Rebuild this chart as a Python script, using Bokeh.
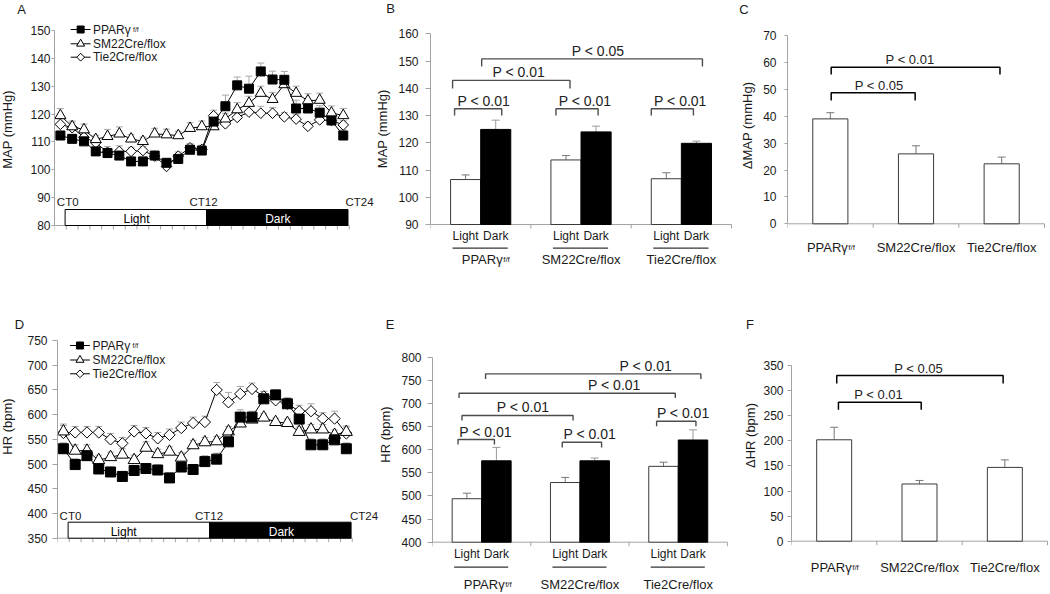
import math
from bokeh.plotting import figure
from bokeh.models import Range1d, FixedTicker, Whisker, TeeHead, ColumnDataSource
from bokeh.layouts import row, column
from bokeh.embed import file_html
from bokeh.resources import INLINE
from bokeh.core.properties import value

FONT = "Liberation Sans"
AXC = "#a3a3a3"
TXT = "#1a1a1a"
ERRC = "#a8a8a8"

# ---------------- data ----------------
ct_hours = list(range(25))
ct_labels = ["CT0", "CT12", "CT24"]
ct_label_hours = [0, 12, 24]
phase_names = ["Light", "Dark"]
phase_start = [0, 12]
phase_end = [12, 24]

series_names = ["PPARγ", "SM22Cre/flox", "Tie2Cre/flox"]
series_sup = ["f/f", "", ""]

# Panel A: MAP (mmHg) over circadian time
map_ppar = [112.3, 111.1, 110.2, 106.6, 106.0, 105.1, 103.0, 103.0, 105.1, 102.5, 103.9, 107.2, 106.9,
            117.3, 122.8, 130.3, 129.1, 135.3, 132.4, 132.3, 122.0, 122.0, 120.5, 117.7, 112.3]
map_ppar_err = [1.5, 1.5, 1.5, 1.5, 1.5, 1.5, 1.5, 1.5, 1.5, 1.5, 1.5, 1.5, 1.5,
                3.0, 4.0, 3.0, 4.5, 3.0, 3.0, 3.0, 3.0, 2.5, 2.5, 2.5, 2.0]
map_sm22 = [119.5, 115.5, 114.4, 110.9, 112.0, 112.9, 111.1, 110.2, 112.9, 112.6, 112.3, 114.9, 115.5,
            115.5, 118.3, 121.6, 123.9, 127.5, 125.3, 130.6, 127.5, 124.8, 125.0, 120.4, 119.5]
map_sm22_err = [2.5, 2.0, 2.0, 1.5, 2.5, 2.5, 1.5, 1.5, 2.0, 2.0, 1.5, 2.0, 2.0,
                2.5, 2.0, 2.5, 2.5, 2.5, 2.5, 2.5, 2.5, 2.5, 2.5, 2.5, 2.5]
map_tie2 = [116.3, 115.1, 111.7, 109.7, 106.3, 106.6, 106.6, 106.9, 104.9, 101.2, 104.9, 107.9, 107.3,
            119.4, 116.5, 118.8, 120.7, 120.3, 120.3, 119.0, 118.2, 115.6, 117.9, 117.7, 116.1]
map_tie2_err = [2.0, 2.0, 1.5, 1.5, 2.0, 2.0, 1.5, 1.5, 1.5, 1.5, 1.5, 1.5, 1.5,
                2.0, 1.5, 1.5, 2.5, 2.5, 2.0, 1.5, 1.5, 1.5, 1.5, 1.5, 1.5]

# Panel D: HR (bpm) over circadian time
hr_ppar = [531, 499, 517, 490, 484, 475, 487, 491, 488, 472, 494, 489, 505,
           510, 545, 595, 595, 632, 640, 622, 591, 539, 539, 549, 531]
hr_ppar_err = [12, 12, 12, 10, 10, 10, 10, 10, 10, 10, 10, 10, 12,
               12, 12, 15, 12, 15, 10, 12, 15, 12, 12, 12, 12]
hr_sm22 = [566, 527, 527, 508, 514, 519, 508, 533, 520, 525, 513, 538, 544,
           546, 566, 582, 590, 594, 585, 583, 565, 570, 570, 559, 565]
hr_sm22_err = [15, 12, 12, 10, 10, 12, 10, 12, 10, 10, 10, 10, 10,
               10, 10, 10, 8, 8, 8, 8, 10, 10, 10, 10, 10]
hr_tie2 = [563, 564, 564, 564, 550, 542, 566, 562, 552, 559, 573, 583, 585,
           650, 625, 642, 652, 637, 629, 622, 607, 607, 592, 592, 562]
hr_tie2_err = [15, 12, 12, 12, 12, 12, 12, 12, 12, 12, 12, 12, 12,
               15, 20, 15, 12, 10, 12, 12, 12, 15, 12, 15, 15]

# Bar panels
groups = ["PPARγ", "SM22Cre/flox", "Tie2Cre/flox"]
group_sup = ["f/f", "", ""]
map_light = [106.5, 113.7, 106.8]
map_light_err = [1.7, 1.6, 2.2]
map_dark = [124.9, 124.0, 119.8]
map_dark_err = [3.4, 2.1, 0.8]
dmap = [39.0, 26.0, 22.3]
dmap_err = [2.3, 3.0, 2.5]
hr_light = [494, 529, 564]
hr_light_err = [12, 11, 9]
hr_dark = [576, 576, 621]
hr_dark_err = [29, 6, 22]
dhr = [202, 114, 147]
dhr_err = [25, 7, 15]

# significance labels
map_sig_text = ["P < 0.01", "P < 0.01", "P < 0.01", "P < 0.01", "P < 0.05"]
dmap_sig_text = ["P < 0.05", "P < 0.01"]
hr_sig_text = ["P < 0.01"] * 6
dhr_sig_text = ["P < 0.01", "P < 0.05"]

# ---------------- layout (bracket geometry: x0, x1, y, drop, text x) ----------------
map_brackets = [(-0.26, 0.21, 132.5, 2.5, 0.03), (0.75, 1.17, 132.5, 2.5, 1.04),
                (1.70, 2.12, 132.5, 2.5, 1.99), (-0.28, 0.89, 142.9, 3.0, 0.38),
                (0.01, 2.21, 150.8, 2.8, 1.17)]
dmap_brackets = [(0.01, 0.99, 48.7, 2.9, 0.57), (0.01, 1.98, 58.2, 2.7, 0.93)]
hr_brackets = [(-0.24, 0.13, 622, 11, 0.04), (0.82, 1.22, 616, 11, 1.10),
               (1.78, 2.18, 661.6, 11, 2.05), (-0.20, 0.93, 674, 11, 0.42),
               (-0.23, 1.97, 722, 10, 1.35), (0.04, 2.23, 764, 11, 1.67)]
dhr_brackets = [(0.05, 1.02, 277, 15, 0.52), (0.03, 1.98, 330, 16, 0.99)]

ROW1_Y, ROW1_H = 0, 290
ROW2_Y, ROW2_H = 290, 302


def bare(W, H, xr, yr, bl=0, yaxis=False):
    p = figure(width=W, height=H, x_range=xr, y_range=yr,
               output_backend="svg", toolbar_location=None,
               x_axis_location=None, y_axis_location=("left" if yaxis else None),
               min_border_left=bl, min_border_right=0, min_border_top=0, min_border_bottom=0)
    p.outline_line_color = None
    p.xgrid.visible = False
    p.ygrid.visible = False
    p.background_fill_color = "white"
    p.border_fill_color = "white"
    return p


def make_panel(fx, fy, W, H, bl, sx, vref, yref, sy):
    fl = fx + bl
    fb = fy + H
    x0 = -0.5
    x1 = x0 + (W - bl) / sx
    ytop = vref + (yref - fy) / sy
    ybot = vref - (fb - yref) / sy
    p = bare(W, H, Range1d(x0, x1), Range1d(ybot, ytop), bl=bl, yaxis=True)
    X = lambda px: x0 + (px - fl) / sx
    Y = lambda py: vref - (py - yref) / sy
    return p, X, Y


def title_fig(fx, fy, W, H, title, title_xy, letter, letter_xy):
    p = bare(W, H, Range1d(0, W), Range1d(0, H))
    p.text(x=[title_xy[0] - fx], y=[H - (title_xy[1] - fy)], text=[title], angle=math.pi / 2,
           text_font=value(FONT), text_font_size="13px", text_align="center",
           text_baseline="middle", text_color=TXT)
    p.text(x=[letter_xy[0] - fx], y=[H - (letter_xy[1] - fy)], text=[letter],
           text_font=value(FONT), text_font_size="13px", text_align="center",
           text_baseline="middle", text_color=TXT)
    return p


def style_y(p, ticks, tick_out, standoff):
    ax = p.yaxis[0]
    ax.ticker = FixedTicker(ticks=ticks)
    ax.bounds = (ticks[0], ticks[-1])
    ax.axis_line_color = AXC
    ax.major_tick_line_color = AXC
    ax.major_tick_out = tick_out
    ax.major_tick_in = 0
    ax.minor_tick_line_color = None
    ax.minor_tick_out = 0
    ax.major_label_standoff = standoff
    ax.major_label_text_font = FONT
    ax.major_label_text_font_size = "12px"
    ax.major_label_text_color = TXT


def txt(p, xs, ys, texts, size="12px", align="center", baseline="middle", color=TXT, x_offset=0):
    p.text(x=xs, y=ys, text=texts, text_font=value(FONT), text_font_size=size,
           text_align=align, text_baseline=baseline, text_color=color, x_offset=x_offset)


def whisk(p, xs, vals, errs, color, cap=7):
    src = ColumnDataSource(dict(b=list(xs), lo=list(vals), up=[v + e for v, e in zip(vals, errs)]))
    p.add_layout(Whisker(source=src, base="b", lower="lo", upper="up", dimension="height",
                         line_color=color, line_width=1, lower_head=None,
                         upper_head=TeeHead(size=cap, line_color=color, line_width=1)))


def series(p, xs, ys, errs, marker, size, fill, angle=0.0):
    whisk(p, xs, ys, errs, ERRC, cap=7)
    p.line(xs, ys, line_color="black", line_width=1)
    p.scatter(xs, ys, marker=marker, size=size, fill_color=fill, line_color="black",
              line_width=1, angle=angle)


def names_with_sup(p, xs, y, names, sups, size, sup_size, shift):
    for x, nm, sp in zip(xs, names, sups):
        if sp:
            txt(p, [x], [y], [nm], size=size, align="right", x_offset=shift)
            txt(p, [x], [y], [sp], size=sup_size, align="left", baseline="alphabetic",
                x_offset=shift + 0.5)
        else:
            txt(p, [x], [y], [nm], size=size)


def brackets(p, specs, texts, color, width, size):
    for (x0, x1, yy, drop, tx), t in zip(specs, texts):
        p.line([x0, x0, x1, x1], [yy - drop, yy, yy, yy - drop], line_color=color, line_width=width)
        txt(p, [tx], [yy], [t], size=size, baseline="bottom", color="#222222")


def baseline(p, y0, sy, n):
    p.line([-0.5, n - 0.5], [y0, y0], line_color=AXC, line_width=1)
    tl = 4.0 / sy
    tx = [k - 0.5 for k in range(n + 1)]
    p.segment(x0=tx, y0=[y0] * len(tx), x1=tx, y1=[y0 - tl] * len(tx), line_color=AXC, line_width=1)


def line_panel(p, X, Y, ydata, yerrs, sizes, ybase, sy, bar_top_px, light_dx, label_px_y,
               ct_x_off, ct_px_y, leg_rows, leg_x0, leg_x1, leg_tx):
    baseline(p, ybase, sy, len(ct_hours))
    off = 0.4
    lefts = [s + off for s in phase_start]
    rights = [e + off for e in phase_end]
    p.quad(left=lefts, right=rights, bottom=ybase, top=Y(bar_top_px),
           fill_color=["white", "black"], line_color="black", line_width=1)
    mids = [(l + r) / 2 + d for l, r, d in zip(lefts, rights, light_dx)]
    txt(p, mids, [Y(label_px_y)] * 2, phase_names, size="12px", color=["black", "white"])
    txt(p, [h + o for h, o in zip(ct_label_hours, ct_x_off)], [Y(ct_px_y)] * 3, ct_labels,
        size="11.5px")
    specs = [("square", sizes[0], "black", 0.0), ("triangle", sizes[1], "white", 0.0),
             ("square", sizes[2], "white", math.pi / 4)]
    for i in [2, 1, 0]:
        mk, sz, fc, ang = specs[i]
        series(p, ct_hours, ydata[i], yerrs[i], mk, sz, fc, ang)
    lspec = [("square", 7, "black", 0.0), ("triangle", 8, "white", 0.0),
             ("square", 5.5, "white", math.pi / 4)]
    for (mk, sz, fc, ang), ry, nm, sp in zip(lspec, leg_rows, series_names, series_sup):
        p.line([X(leg_x0), X(leg_x1)], [Y(ry), Y(ry)], line_color="black", line_width=1)
        p.scatter([X((leg_x0 + leg_x1) / 2)], [Y(ry)], marker=mk, size=sz, fill_color=fc,
                  line_color="black", line_width=1, angle=ang)
        txt(p, [X(leg_tx)], [Y(ry)], [nm], size="12px", align="left")
        if sp:
            txt(p, [X(leg_tx)], [Y(ry)], [sp], size="7px", align="left", baseline="alphabetic",
                x_offset=40)


gx = list(range(len(groups)))
lx = [g - 0.15 for g in gx]
dx = [g + 0.15 for g in gx]

# ---------------- Panel A ----------------
tA = title_fig(0, ROW1_Y, 27, ROW1_H, "MAP (mmHg)", (7, 129), "A", (21, 9))
pA, XA, YA = make_panel(27, ROW1_Y, 348, ROW1_H, 25, 11.86, 80, 225, 2.786)
style_y(pA, list(range(80, 151, 10)), 3, 1)
line_panel(pA, XA, YA, [map_ppar, map_sm22, map_tie2], [map_ppar_err, map_sm22_err, map_tie2_err],
           (9, 11, 7.5), 80, 2.786, 209, [0.06, 0.05], 218, [0.62, 0.15, 1.38], 201.7,
           [29, 43.3, 56.7], 68.3, 88.3, 90.7)

# ---------------- Panel B ----------------
tB = title_fig(375, ROW1_Y, 20, ROW1_H, "MAP (mmHg)", (381.7, 128.3), "B", (390, 8))
pB, XB, YB = make_panel(395, ROW1_Y, 343, ROW1_H, 33, 101, 90, 224, 2.724)
style_y(pB, list(range(90, 161, 10)), 5, 7)
baseline(pB, 90, 2.724, len(groups))
whisk(pB, lx, map_light, map_light_err, "#777777", cap=8)
whisk(pB, dx, map_dark, map_dark_err, "#9a9a9a", cap=8)
pB.vbar(x=lx, top=map_light, bottom=90, width=0.3, fill_color="white", line_color="#3a3a3a")
pB.vbar(x=dx, top=map_dark, bottom=90, width=0.3, fill_color="black", line_color="black")
txt(pB, lx, [YB(235)] * 3, [phase_names[0]] * 3, size="12px")
txt(pB, dx, [YB(235)] * 3, [phase_names[1]] * 3, size="12px")
pB.segment(x0=[g - 0.28 for g in gx], y0=[YB(247.7)] * 3, x1=[g + 0.27 for g in gx],
           y1=[YB(247.7)] * 3, line_color="#333333", line_width=1.2)
names_with_sup(pB, gx, YB(259.3), groups, group_sup, "13px", "8px", 22)
brackets(pB, map_brackets, map_sig_text, "#4d4d4d", 1.4, "14px")

# ---------------- Panel C ----------------
tC = title_fig(738, ROW1_Y, 22, ROW1_H, "ΔMAP (mmHg)", (746.7, 125), "C", (743.5, 9))
pC, XC, YC = make_panel(760, ROW1_Y, 288, ROW1_H, 26, 86, 0, 223.3, 2.69)
style_y(pC, list(range(0, 71, 10)), 3, 8)
baseline(pC, 0, 2.69, len(groups))
whisk(pC, gx, dmap, dmap_err, "#777777", cap=8)
pC.vbar(x=gx, top=dmap, bottom=0, width=0.41, fill_color="white", line_color="#3a3a3a")
names_with_sup(pC, gx, YC(246.7), groups, group_sup, "13px", "8px", 17.5)
brackets(pC, dmap_brackets, dmap_sig_text, "black", 1.5, "13px")

# ---------------- Panel D ----------------
tD = title_fig(0, ROW2_Y, 24, ROW2_H, "HR (bpm)", (7, 426), "D", (19, 324))
pD, XD, YD = make_panel(24, ROW2_Y, 355, ROW2_H, 30, 11.9, 350, 537.7, 0.4942)
style_y(pD, list(range(350, 751, 50)), 5, 5)
line_panel(pD, XD, YD, [hr_ppar, hr_sm22, hr_tie2], [hr_ppar_err, hr_sm22_err, hr_tie2_err],
           (10, 12, 8), 350, 0.4942, 521.7, [-1.29, 0.09], 531, [0.6, 0.35, 1.5], 515,
           [345, 359.5, 373.3], 66.7, 86.7, 89.3)

# ---------------- Panel E ----------------
tE = title_fig(379, ROW2_Y, 19, ROW2_H, "HR (bpm)", (385, 434), "E", (389.5, 323.5))
pE, XE, YE = make_panel(398, ROW2_Y, 340, ROW2_H, 34, 98.3, 400, 541.7, 0.4625)
style_y(pE, list(range(400, 801, 50)), 5, 6)
baseline(pE, 400, 0.4625, len(groups))
whisk(pE, lx, hr_light, hr_light_err, "#777777", cap=8)
whisk(pE, dx, hr_dark, hr_dark_err, "#9a9a9a", cap=8)
pE.vbar(x=lx, top=hr_light, bottom=400, width=0.3, fill_color="white", line_color="#3a3a3a")
pE.vbar(x=dx, top=hr_dark, bottom=400, width=0.3, fill_color="black", line_color="black")
txt(pE, lx, [YE(553)] * 3, [phase_names[0]] * 3, size="12px")
txt(pE, dx, [YE(553)] * 3, [phase_names[1]] * 3, size="12px")
pE.segment(x0=[g - 0.28 for g in gx], y0=[YE(566.7)] * 3, x1=[g + 0.27 for g in gx],
           y1=[YE(566.7)] * 3, line_color="#333333", line_width=1.2)
names_with_sup(pE, gx, YE(584), groups, group_sup, "13px", "8px", 23)
brackets(pE, hr_brackets, hr_sig_text, "#4d4d4d", 1.4, "14px")

# ---------------- Panel F ----------------
tF = title_fig(738, ROW2_Y, 22, ROW2_H, "ΔHR (bpm)", (750, 435), "F", (749.5, 323.5))
pF, XF, YF = make_panel(760, ROW2_Y, 288, ROW2_H, 29, 86, 0, 540.7, 0.502)
style_y(pF, list(range(0, 351, 50)), 4, 4)
baseline(pF, 0, 0.502, len(groups))
whisk(pF, gx, dhr, dhr_err, "#777777", cap=8)
pF.vbar(x=gx, top=dhr, bottom=0, width=0.41, fill_color="white", line_color="#3a3a3a")
names_with_sup(pF, gx, YF(566.7), groups, group_sup, "13px", "8px", 17.5)
brackets(pF, dhr_brackets, dhr_sig_text, "black", 1.5, "13px")

layout = column(row(tA, pA, tB, pB, tC, pC), row(tD, pD, tE, pE, tF, pF))
open("out.html", "w").write(file_html(layout, INLINE))
